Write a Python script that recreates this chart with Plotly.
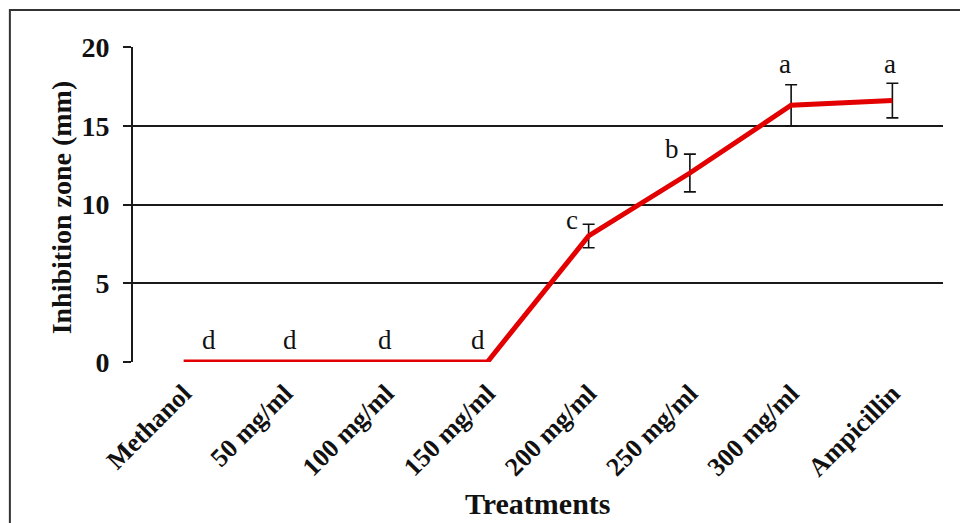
import plotly.graph_objects as go

# Inhibition zone by treatment
treatments = ["Methanol", "50 mg/ml", "100 mg/ml", "150 mg/ml",
              "200 mg/ml", "250 mg/ml", "300 mg/ml", "Ampicillin"]
inhibition_mm = [0, 0, 0, 0, 8.0, 12.0, 16.3, 16.6]
error_mm = [None, None, None, None, 0.75, 1.2, 1.3, 1.1]
group_letters = ["d", "d", "d", "d", "c", "b", "a", "a"]
y_ticks = [0, 5, 10, 15, 20]

SERIF = "Liberation Serif, Times New Roman, serif"

fig = go.Figure()

# error bars (only where a spread was measured)
err_x = [t for t, e in zip(treatments, error_mm) if e is not None]
err_y = [v for v, e in zip(inhibition_mm, error_mm) if e is not None]
err_v = [e for e in error_mm if e is not None]
fig.add_trace(go.Scatter(
    x=err_x, y=err_y, mode="markers",
    marker=dict(size=1, color="rgba(0,0,0,0)"),
    error_y=dict(type="data", array=err_v, visible=True,
                 color="#111111", thickness=1.6, width=6),
    showlegend=False, hoverinfo="skip", cliponaxis=False,
))

# mean line
fig.add_trace(go.Scatter(
    x=treatments, y=inhibition_mm, mode="lines",
    line=dict(color="#e30000", width=5),
    showlegend=False, cliponaxis=False,
))

# significance letters: (x offset px, height above point in mm)
letter_pos = [(25, 1.4), (5, 1.4), (-1, 1.4), (-9, 1.4),
              (-17, 1.0), (-18, 1.5), (-6, 2.6), (-2, 2.3)]
annotations = []
for t, v, lab, (dx, dy) in zip(treatments, inhibition_mm, group_letters, letter_pos):
    annotations.append(dict(
        x=t, y=v + dy, text=lab, showarrow=False, xshift=dx,
        font=dict(family=SERIF, size=27, color="#111111"),
        xref="x", yref="y",
    ))

# axis titles
annotations.append(dict(
    text="Treatments", x=0.5, y=-0.448, xref="paper", yref="paper",
    showarrow=False,
    font=dict(family=SERIF, size=30, color="#111111", weight="bold"),
    yanchor="middle",
))
annotations.append(dict(
    text="Inhibition zone (mm)", x=-0.088, y=0.49, xref="paper", yref="paper",
    showarrow=False, textangle=-90,
    font=dict(family=SERIF, size=28, color="#111111", weight="bold"),
    xanchor="center", yanchor="middle",
))

# outer frame around the chart
shapes = [dict(type="rect", xref="paper", yref="paper",
               x0=-0.152, x1=1.03, y0=-0.53, y1=1.1175,
               line=dict(color="#333333", width=2), fillcolor="rgba(0,0,0,0)",
               layer="below")]

fig.update_layout(
    width=960, height=523,
    margin=dict(l=133, r=17, t=47, b=161),
    paper_bgcolor="white", plot_bgcolor="white",
    showlegend=False,
    annotations=annotations,
    shapes=shapes,
    xaxis=dict(
        type="category", categoryorder="array", categoryarray=treatments,
        range=[-0.5, len(treatments) - 0.5],
        tickangle=-45, showgrid=False, zeroline=False, showline=False,
        ticks="", ticklabelstandoff=10,
        tickfont=dict(family=SERIF, size=26, color="#111111", weight="bold"),
    ),
    yaxis=dict(
        range=[0, 20], tickvals=y_ticks, showgrid=True, gridcolor="#1a1a1a",
        gridwidth=1.6, zeroline=False, showline=True, linecolor="#1a1a1a",
        linewidth=1.6, ticks="outside", ticklen=8, tickwidth=1.6,
        tickcolor="#1a1a1a", ticklabelstandoff=8,
        tickfont=dict(family=SERIF, size=28, color="#111111", weight="bold"),
    ),
)

fig.write_html("out.html")
